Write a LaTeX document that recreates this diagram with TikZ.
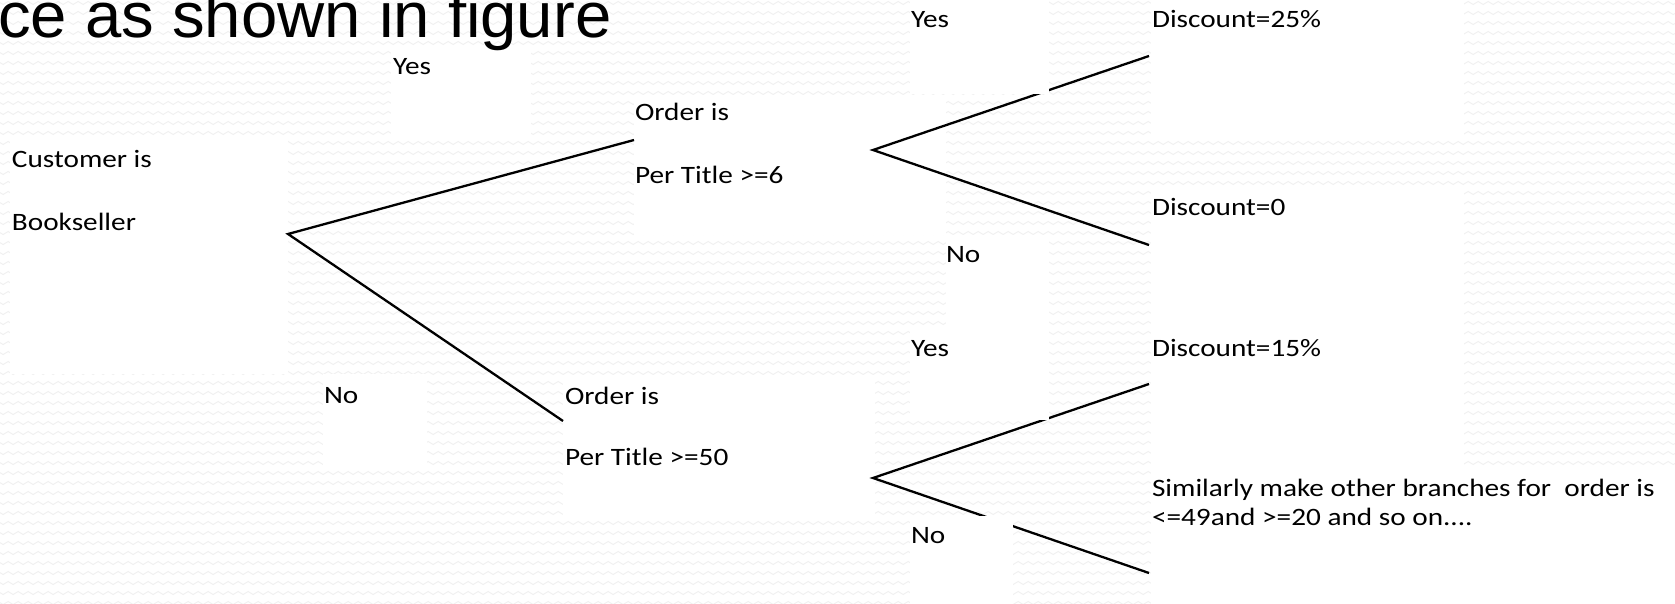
\documentclass[tikz,border=0pt]{standalone}
\usepackage{fontspec}
\setmainfont{Carlito}[FakeStretch=1.17]
\newfontfamily\titlefont{Liberation Sans}[FakeStretch=1.02]
\usetikzlibrary{decorations.pathmorphing}
\tikzset{
  wbox/.style={fill=white, draw=none, inner sep=0pt, outer sep=0pt, anchor=north west},
  lbl/.style={inner sep=0pt, outer sep=0pt, anchor=base west, font=\fontsize{25}{30}\selectfont},
  branch/.style={line width=2.3pt, line cap=butt},
  pat/.style={decorate, decoration={snake, segment length=10pt, amplitude=1.5pt}, draw=black!6, line width=0.9pt},
}
\begin{document}
\begin{tikzpicture}[x=1pt, y=-1pt]
\useasboundingbox (0,0) rectangle (1675,604);
\clip (0,0) rectangle (1675,604);
% background
\fill[white] (0,0) rectangle (1675,604);
\foreach \r in {0,...,61} \draw[pat] (-5,\r*10+3) -- (1680,\r*10+3);
% boxes under the branches
\node[wbox, minimum width=278pt, minimum height=234pt] (boxB) at (10,140) {};
\node[wbox, minimum width=312pt, minimum height=140pt] (boxC) at (634,95) {};
\node[wbox, minimum width=312pt, minimum height=141pt] (boxD) at (563,375) {};
\node[wbox, minimum width=140pt, minimum height=92pt] (yesA) at (391,47) {};
\node[wbox, minimum width=104pt, minimum height=96pt] (noB) at (323,374) {};
% branch points
\coordinate (vB) at (288,234);
\coordinate (inC) at (634,140);
\coordinate (inD) at (563,421);
\coordinate (vC) at (873,150);
\coordinate (endC1) at (1149,56);
\coordinate (endC2) at (1149,245);
\coordinate (vD) at (873,478);
\coordinate (endD1) at (1149,384);
\coordinate (endD2) at (1149,573);
\draw[branch] (inC) -- (vB) -- (inD);
\draw[branch] (endC1) -- (vC) -- (endC2);
\draw[branch] (endD1) -- (vD) -- (endD2);
% boxes over the branches
\node[wbox, minimum width=139pt, minimum height=94pt] (yesC) at (910,0) {};
\node[wbox, minimum width=103pt, minimum height=93pt] (noC) at (946,235) {};
\node[wbox, minimum width=139pt, minimum height=92pt] (yesD) at (910,328) {};
\node[wbox, minimum width=103pt, minimum height=90pt] (noD) at (910,516) {};
\node[wbox, minimum width=313pt, minimum height=140pt] (d25) at (1151,0) {};
\node[wbox, minimum width=313pt, minimum height=277pt] (d0) at (1151,190) {};
\node[wbox, minimum width=524pt, minimum height=137pt] (sim) at (1151,467) {};
% title
\node[inner sep=0pt, anchor=base west, font=\titlefont\fontsize{64}{68}\selectfont] (title) at (-2,38) {ce as shown in figure};
% texts
\node[lbl] (tYesA) at (393,75) {Yes};
\node[lbl] (tCust1) at (12,168) {Customer is};
\node[lbl] (tCust2) at (12,230) {Bookseller};
\node[lbl] (tOrdC1) at (635,121) {Order is};
\node[lbl] (tOrdC2) at (635,184) {Per Title >=6};
\node[lbl] (tYesC) at (911,28) {Yes};
\node[lbl] (tNoC) at (946,262) {No};
\node[lbl] (tD25) at (1152,28) {Discount=25\%};
\node[lbl] (tD0) at (1152,215) {Discount=0};
\node[lbl] (tYesD) at (911,356) {Yes};
\node[lbl] (tD15) at (1152,356) {Discount=15\%};
\node[lbl] (tOrdD1) at (565,404) {Order is};
\node[lbl] (tOrdD2) at (565,465) {Per Title >=50};
\node[lbl] (tNoB) at (324,403) {No};
\node[lbl] (tNoD) at (911,543) {No};
\node[lbl] (tSim1) at (1152,496) {Similarly make other branches for\ \ order is};
\node[lbl] (tSim2) at (1152,525) {<=49and >=20 and so on....};
\end{tikzpicture}
\end{document}
